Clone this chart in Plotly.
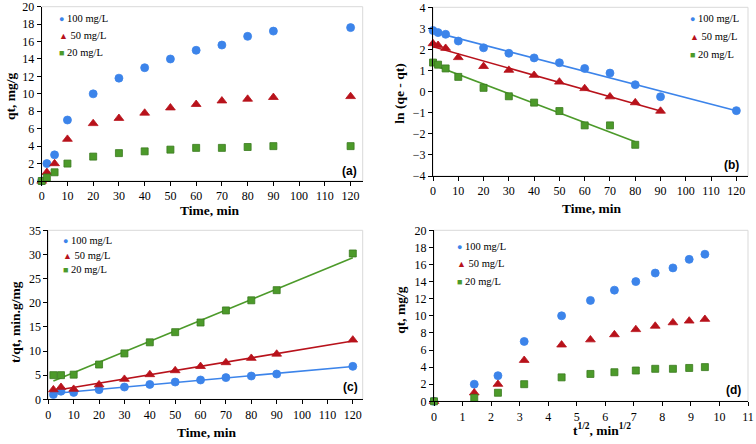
import numpy as np
import plotly.graph_objects as go

# ---------------- data ----------------
series_names = ["100 mg/L", "50 mg/L", "20 mg/L"]

# (a) qt vs time
time_a = [0, 2, 5, 10, 20, 30, 40, 50, 60, 70, 80, 90, 120]
qt_100 = [0, 2.0, 3.0, 7.0, 10.0, 11.8, 13.0, 14.0, 15.0, 15.6, 16.6, 17.2, 17.6]
qt_50 = [0, 1.0, 2.0, 4.8, 6.6, 7.2, 7.8, 8.4, 8.8, 9.2, 9.4, 9.6, 9.7]
qt_20 = [0, 0.4, 1.0, 2.0, 2.8, 3.2, 3.4, 3.6, 3.8, 3.8, 3.9, 4.0, 4.0]

# (b) ln(qe - qt) vs time
time_b100 = [0, 2, 5, 10, 20, 30, 40, 50, 60, 70, 80, 90, 120]
ln_100 = [2.9, 2.8, 2.72, 2.4, 2.08, 1.82, 1.6, 1.37, 1.1, 0.88, 0.33, -0.24, -0.9]
time_b50 = [0, 2, 5, 10, 20, 30, 40, 50, 60, 70, 80, 90]
ln_50 = [2.28, 2.2, 2.06, 1.62, 1.2, 1.02, 0.78, 0.46, 0.15, -0.24, -0.52, -0.92]
time_b20 = [0, 2, 5, 10, 20, 30, 40, 50, 60, 70, 80]
ln_20 = [1.38, 1.28, 1.1, 0.7, 0.18, -0.22, -0.52, -0.92, -1.6, -1.6, -2.52]

# (c) t/qt vs time
time_c = [2, 5, 10, 20, 30, 40, 50, 60, 70, 80, 90, 120]
tq_100 = [1.0, 1.67, 1.43, 2.0, 2.54, 3.08, 3.57, 4.0, 4.49, 4.82, 5.23, 6.82]
tq_50 = [2.0, 2.5, 2.1, 3.03, 4.17, 5.13, 5.95, 6.82, 7.61, 8.51, 9.38, 12.3]
tq_20 = [5.0, 5.0, 5.1, 7.2, 9.5, 11.8, 13.9, 15.9, 18.4, 20.5, 22.6, 30.2]

# (d) qt vs t^1/2
sqrt_t = [0, 1.41, 2.24, 3.16, 4.47, 5.48, 6.32, 7.07, 7.75, 8.37, 8.94, 9.49]
qd_100 = [0, 2.0, 3.0, 7.0, 10.0, 11.8, 13.0, 14.0, 15.0, 15.6, 16.6, 17.2]
qd_50 = [0, 1.0, 2.0, 4.8, 6.6, 7.2, 7.8, 8.4, 8.8, 9.2, 9.4, 9.6]
qd_20 = [0, 0.4, 1.0, 2.0, 2.8, 3.2, 3.4, 3.6, 3.8, 3.8, 3.9, 4.0]

time_ticks = [0, 10, 20, 30, 40, 50, 60, 70, 80, 90, 100, 110, 120]
sqrt_ticks = [0, 1, 2, 3, 4, 5, 6, 7, 8, 9, 10, 11]

x_titles = ["Time, min", "Time, min", "Time, min", "t<sup>1/2</sup>, min<sup>1/2</sup>"]
y_titles = ["qt, mg/g", "ln (qe - qt)", "t/qt, min.g/mg", "qt, mg/g"]
panel_labels = ["(a)", "(b)", "(c)", "(d)"]

# ---------------- styling ----------------
W, H = 756, 444
colors = ["#3C84EA", "#B8121B", "#4C9A2A"]
edge = ["#3C84EA", "#B8121B", "#3A7A1E"]
symbols = ["circle", "triangle-up", "square"]
sizes = [8, 8.5, 7]
glyphs = ["\u25CF", "\u25B2", "\u25A0"]
SERIF = "Liberation Serif, Times New Roman, serif"

def px(x, y):
    return x / W, 1 - y / H

def dom_x(a, b):
    return [a / W, min(1, b / W)]

def dom_y(top, bottom):
    return [1 - bottom / H, min(1, 1 - top / H)]

fig = go.Figure()

def add_points(xs, ys, i, xa, ya):
    fig.add_trace(go.Scatter(
        x=xs, y=ys, mode="markers", name=series_names[i], showlegend=False,
        marker=dict(symbol=symbols[i], size=sizes[i], color=colors[i],
                    line=dict(color=edge[i], width=0.8)),
        cliponaxis=False, xaxis=xa, yaxis=ya))

def add_fit(xs, ys, i, xa, ya):
    k, b = np.polyfit(xs, ys, 1)
    x0, x1 = min(xs), max(xs)
    fig.add_trace(go.Scatter(
        x=[x0, x1], y=[k * x0 + b, k * x1 + b], mode="lines", showlegend=False,
        line=dict(color=colors[i], width=1.6), hoverinfo="skip",
        xaxis=xa, yaxis=ya))

# (a)
for i, ys in enumerate([qt_100, qt_50, qt_20]):
    add_points(time_a, ys, i, "x", "y")
# (b)
b_sets = [(time_b100, ln_100), (time_b50, ln_50), (time_b20, ln_20)]
for i, (xs, ys) in enumerate(b_sets):
    add_fit(xs, ys, i, "x2", "y2")
for i, (xs, ys) in enumerate(b_sets):
    add_points(xs, ys, i, "x2", "y2")
# (c)
for i, ys in enumerate([tq_100, tq_50, tq_20]):
    add_fit(time_c, ys, i, "x3", "y3")
for i, ys in enumerate([tq_100, tq_50, tq_20]):
    add_points(time_c, ys, i, "x3", "y3")
# (d)
for i, ys in enumerate([qd_100, qd_50, qd_20]):
    add_points(sqrt_t, ys, i, "x4", "y4")

tickfont = dict(family=SERIF, size=12, color="black")
titlefont = dict(family=SERIF, size=13.5, color="black", weight="bold")

def xax(domain, anchor, rng, tick_vals):
    return dict(domain=domain, anchor=anchor, range=rng, showgrid=False, zeroline=False,
                showline=True, linecolor="black", linewidth=1, ticks="outside",
                ticklen=4, tickcolor="black", tickfont=tickfont, automargin=False,
                tickmode="array", tickvals=tick_vals, ticklabeloverflow="allow")

def yax(domain, anchor, rng, dtick):
    return dict(domain=domain, anchor=anchor, range=rng, showgrid=False, zeroline=False,
                showline=True, linecolor="black", linewidth=1, ticks="outside",
                ticklen=4, tickcolor="black", tickfont=tickfont, automargin=False,
                dtick=dtick, tick0=0, ticklabeloverflow="allow")

fig.update_layout(
    width=W, height=H, margin=dict(l=0, r=0, t=0, b=0),
    paper_bgcolor="white", plot_bgcolor="white",
    xaxis=xax(dom_x(41.7, 362.7), "y", [0, 124.7], time_ticks),
    yaxis=yax(dom_y(6.7, 181), "x", [0, 20], 2),
    xaxis2=xax(dom_x(433, 748), "y2", [0, 124.6], time_ticks),
    yaxis2=yax(dom_y(7.3, 176), "x2", [-4, 4], 1),
    xaxis3=xax(dom_x(48.3, 362.7), "y3", [0, 123.9], time_ticks),
    yaxis3=yax(dom_y(230.3, 399.3), "x3", [0, 35], 5),
    xaxis4=xax(dom_x(434, 748), "y4", [0, 11], sqrt_ticks),
    yaxis4=yax(dom_y(230.3, 401.3), "x4", [0, 20], 2),
)

# axis titles placed at their pixel positions
x_title_pos = [(209.7, 210), (591.3, 208.3), (206.7, 432)]
y_title_pos = [(10, 96), (398.7, 94), (15, 322), (399.7, 310)]
for t, (lx, ly) in zip(x_titles[:3], x_title_pos):
    gx, gy = px(lx, ly)
    fig.add_annotation(xref="paper", yref="paper", x=gx, y=gy, xanchor="center",
                       yanchor="middle", showarrow=False, borderpad=0,
                       text=t, font=titlefont)
# panel (d) x title (with superscripts), anchored by its top edge
gx, gy = px(602, 420)
fig.add_annotation(xref="paper", yref="paper", x=gx, y=gy, xanchor="center",
                   yanchor="top", showarrow=False, borderpad=0,
                   text=x_titles[3], font=titlefont)
for t, (lx, ly) in zip(y_titles, y_title_pos):
    gx, gy = px(lx, ly)
    fig.add_annotation(xref="paper", yref="paper", x=gx, y=gy, xanchor="center",
                       yanchor="middle", showarrow=False, borderpad=0, textangle=-90,
                       text=t, font=titlefont)

# light grey plot-area borders
for xa, ya in [("x", "y"), ("x2", "y2"), ("x3", "y3"), ("x4", "y4")]:
    fig.add_shape(type="rect", xref=f"{xa} domain", yref=f"{ya} domain",
                  x0=0, x1=1, y0=0, y1=1, line=dict(color="#D9D9D9", width=1),
                  layer="below")

# legends (as text annotations)
legend_pos = [
    (57.7, [18.3, 35.5, 52.7]),
    (688.7, [18.3, 36.7, 55]),
    (62, [240.3, 255.3, 269.7]),
    (455.7, [246, 263.7, 281.3]),
]
for lx, ys in legend_pos:
    for i, ly in enumerate(ys):
        gx, gy = px(lx, ly)
        fig.add_annotation(
            xref="paper", yref="paper", x=gx, y=gy, xanchor="left", yanchor="middle",
            showarrow=False, borderpad=0,
            text=f"<span style='color:{colors[i]};font-size:9px'>{glyphs[i]}</span> {series_names[i]}",
            font=dict(family=SERIF, size=10.5, color="black"))

# panel labels
for lab, (lx, ly) in zip(panel_labels,
                         [(349.3, 170.7), (731.3, 165), (350, 387), (733, 390.3)]):
    gx, gy = px(lx, ly)
    fig.add_annotation(xref="paper", yref="paper", x=gx, y=gy, xanchor="center",
                       yanchor="middle", showarrow=False, text=f"<b>{lab}</b>",
                       font=dict(family="Liberation Sans, Arial, sans-serif", size=12,
                                 color="black"))

# remove the default page margin so the figure fills the window exactly
fig.write_html("out.html", config={"displayModeBar": False},
               post_script="document.body.style.margin='0px';"
                           "document.documentElement.style.overflow='hidden';")
